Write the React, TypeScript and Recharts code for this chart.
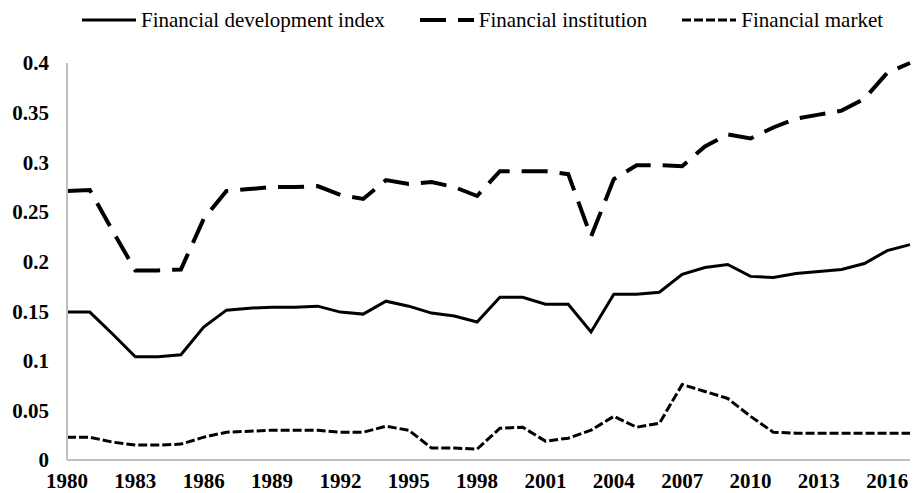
import { LineChart, Line, XAxis, YAxis, Legend } from "recharts";

const years = [
  "1980", "1981", "1982", "1983", "1984", "1985", "1986", "1987", "1988", "1989",
  "1990", "1991", "1992", "1993", "1994", "1995", "1996", "1997", "1998", "1999",
  "2000", "2001", "2002", "2003", "2004", "2005", "2006", "2007", "2008", "2009",
  "2010", "2011", "2012", "2013", "2014", "2015", "2016", "2017",
];

const financialDevelopment = [
  0.149, 0.149, 0.127, 0.104, 0.104, 0.106, 0.134, 0.151, 0.153, 0.154,
  0.154, 0.155, 0.149, 0.147, 0.16, 0.155, 0.148, 0.145, 0.139, 0.164,
  0.164, 0.157, 0.157, 0.129, 0.167, 0.167, 0.169, 0.187, 0.194, 0.197,
  0.185, 0.184, 0.188, 0.19, 0.192, 0.198, 0.211, 0.217,
];

const financialInstitution = [
  0.271, 0.272, 0.231, 0.191, 0.191, 0.192, 0.243, 0.271, 0.273, 0.275,
  0.275, 0.276, 0.267, 0.263, 0.282, 0.278, 0.28, 0.275, 0.266, 0.291,
  0.291, 0.291, 0.288, 0.225, 0.283, 0.297, 0.297, 0.296, 0.316, 0.328,
  0.324, 0.335, 0.344, 0.348, 0.352, 0.364, 0.39, 0.4,
];

const financialMarket = [
  0.023, 0.023, 0.018, 0.015, 0.015, 0.016, 0.023, 0.028, 0.029, 0.03,
  0.03, 0.03, 0.028, 0.028, 0.034, 0.03, 0.012, 0.012, 0.011, 0.032,
  0.033, 0.019, 0.022, 0.03, 0.044, 0.033, 0.037, 0.076, 0.069, 0.062,
  0.044, 0.028, 0.027, 0.027, 0.027, 0.027, 0.027, 0.027,
];

const yTicks = [0, 0.05, 0.1, 0.15, 0.2, 0.25, 0.3, 0.35, 0.4];

const series = [
  { key: "fdi", name: "Financial development index", dash: undefined, width: 3 },
  { key: "fi", name: "Financial institution", dash: "26 12", width: 4 },
  { key: "fm", name: "Financial market", dash: "9 3", width: 3 },
];

const data = years.map((year, i) => ({
  year,
  fdi: financialDevelopment[i],
  fi: financialInstitution[i],
  fm: financialMarket[i],
}));

const FONT = '"Liberation Serif", "Times New Roman", serif';

function LegendContent() {
  return (
    <div
      style={{
        display: "flex",
        alignItems: "center",
        height: 40,
        paddingLeft: 82,
        fontFamily: FONT,
        fontSize: 21,
        color: "#000",
      }}
    >
      {series.map((s) => (
        <div key={s.key} style={{ display: "flex", alignItems: "center", marginRight: 35 }}>
          <svg width={54} height={10}>
            <line
              x1={0}
              y1={5}
              x2={54}
              y2={5}
              stroke="#000"
              strokeWidth={s.width}
              strokeDasharray={s.dash}
            />
          </svg>
          <span style={{ marginLeft: 5, whiteSpace: "nowrap" }}>{s.name}</span>
        </div>
      ))}
    </div>
  );
}

export default function App() {
  return (
    <div style={{ position: "absolute", left: 0, top: 0, background: "#fff" }}>
      <LineChart
        width={915}
        height={493}
        data={data}
        margin={{ top: 23, right: 5, bottom: 3, left: 0 }}
      >
        <Legend
          verticalAlign="top"
          align="left"
          content={<LegendContent />}
          wrapperStyle={{ top: 0, left: 0, width: 915 }}
        />
        <XAxis
          dataKey="year"
          interval={2}
          height={30}
          tickSize={0}
          tickMargin={13}
          tickLine={false}
          axisLine={{ stroke: "#bfbfbf", strokeWidth: 2 }}
          tick={{ fontFamily: FONT, fontSize: 21, fontWeight: "bold", fill: "#000" }}
        />
        <YAxis
          domain={[0, 0.4]}
          ticks={yTicks}
          width={67}
          tickSize={0}
          tickMargin={18}
          tickLine={false}
          axisLine={{ stroke: "#bfbfbf", strokeWidth: 2 }}
          tick={{ fontFamily: FONT, fontSize: 21, fontWeight: "bold", fill: "#000" }}
        />
        {series.map((s) => (
          <Line
            key={s.key}
            type="linear"
            dataKey={s.key}
            name={s.name}
            stroke="#000"
            strokeWidth={s.width}
            strokeDasharray={s.dash}
            dot={false}
            activeDot={false}
            isAnimationActive={false}
          />
        ))}
      </LineChart>
    </div>
  );
}
